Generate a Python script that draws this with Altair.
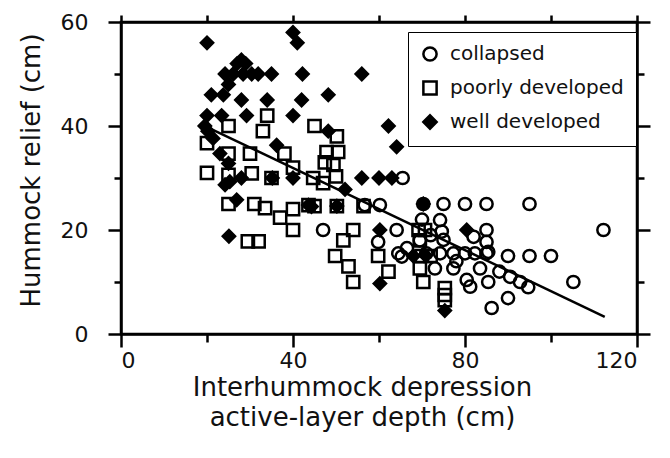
import altair as alt
import pandas as pd

# ---------------- data ----------------
series_names = ["collapsed", "poorly developed", "well developed"]

collapsed_x = [65.5, 56.7, 60.2, 70.3, 75, 80, 85, 95, 47, 64.1, 59.8, 64.5, 65.3,
               69.5, 72, 70, 74.2, 74.6, 75, 85, 82, 85, 85.4, 71, 74.2, 77.3, 80,
               82.3, 85, 90, 95, 100, 73, 77.3, 83.5, 78, 80.4, 81.2, 85.4, 88,
               90.5, 92.8, 94.7, 90, 86.2, 105.2, 112.2, 66.5]
collapsed_y = [30, 24.8, 24.8, 25, 25, 25, 25, 25, 20, 20, 17.7, 15.5, 14.9,
               18, 19, 22, 21.9, 19.7, 18.1, 20, 18.7, 17.7, 15.8, 15.5, 15.5, 15.5, 15.5,
               15.5, 15.5, 15, 15, 15, 12.6, 12.6, 12.6, 14, 10.4, 9.1, 10, 12,
               11, 10, 9, 6.9, 5, 10, 20, 16.5]

poorly_x = [34, 25, 33, 20, 25, 30, 38, 40, 20, 25, 30.4, 35, 25, 31, 33.5, 37, 40,
            40, 29.5, 32, 43.6, 44.7, 45, 50.2, 47.8, 50.5, 47.4, 49.4, 50, 47, 45,
            50.2, 56.4, 54, 51.7, 49.8, 52.9, 54, 59.8, 62.2, 69.5, 70.3, 69.2, 70.7,
            69.5, 75.3, 75.3, 75.3, 70, 72]
poorly_y = [42, 40, 39, 36.7, 34.7, 34.7, 34.7, 32, 31, 30.6, 30.9, 30, 25, 25, 24.2, 22.4, 24,
            20, 17.8, 17.8, 24.8, 30, 40, 38, 35, 35, 33, 32.5, 30.3, 29, 24.6,
            24.6, 24.6, 20, 18, 15, 13, 10, 15, 12, 12.6, 10, 20, 20,
            18, 8.8, 7.5, 6.5, 15, 15]

well_x = [20, 40, 41, 28, 27, 29, 24.2, 26.1, 28.4, 30.4, 31.9, 35, 42.2, 56, 25, 21,
          23.8, 28, 34, 42, 48.2, 20, 23.4, 29.2, 40, 62.2, 48.2, 19.5, 20.2, 21.4,
          36.2, 64.1, 23, 25, 24.2, 25.3, 28, 26.9, 25.1, 35.2, 40, 44.3, 50.2, 43.6,
          52.1, 56, 60, 63, 70.3, 60.2, 60.2, 80.4, 75.3, 70.7, 68]
well_y = [56, 58, 56, 52.7, 52, 52, 50, 50, 50, 50, 50, 50, 50, 50, 48, 46,
          46, 45, 45, 45, 46, 42, 42, 42, 42, 40, 39, 40, 39, 37.6,
          36.3, 36, 34.7, 32.8, 28.7, 29.3, 30, 25.8, 18.8, 30, 30, 24.5, 24.6, 24.8,
          27.8, 30, 30, 30, 25, 20, 9.7, 20, 4.5, 15.2, 15]

fit_x = [20.5, 112.5]
fit_y = [39.6, 3.3]

x_ticks = [0, 20, 40, 60, 80, 100, 120]
y_ticks = [0, 10, 20, 30, 40, 50, 60]

# ---------------- tables ----------------
rows = []
for name, xs, ys in zip(series_names,
                        [collapsed_x, poorly_x, well_x],
                        [collapsed_y, poorly_y, well_y]):
    rows += [{"depth": a, "relief": b, "type": name} for a, b in zip(xs, ys)]
df = pd.DataFrame(rows)
fit_df = pd.DataFrame({"depth": fit_x, "relief": fit_y})

FONT = "DejaVu Sans"
INK = "#111111"

x_scale = alt.Scale(domain=[0, 120], nice=False, zero=False)
y_scale = alt.Scale(domain=[0, 60], nice=False, zero=False)

major_x = "datum.value % 40 === 0"
major_y = "datum.value % 20 === 0"


def make_legend():
    return alt.Legend(title=None, orient="none", legendX=287, legendY=10,
                      labelFont=FONT, labelFontSize=20, labelColor=INK, labelLimit=400,
                      strokeColor="black", fillColor="white", padding=12,
                      rowPadding=10, labelOffset=10, symbolSize=175,
                      symbolStrokeWidth=2.5)


points = alt.Chart(df).mark_point(strokeWidth=2.5, opacity=1, size=150).encode(
    x=alt.X("depth:Q", scale=x_scale,
            axis=alt.Axis(orient="bottom", values=x_ticks,
                          labelExpr=f"{major_x} ? datum.label : ''",
                          tickSize={"condition": {"test": major_x, "value": 13}, "value": 8},
                          labelPadding=3,
                          title=["Interhummock depression", "active-layer depth (cm)"],
                          titleX=241, titleY=61, titleAlign="center",
                          titleBaseline="alphabetic", titleLineHeight=30)),
    y=alt.Y("relief:Q", scale=y_scale,
            axis=alt.Axis(orient="left", values=y_ticks,
                          labelExpr=f"{major_y} ? datum.label : ''",
                          tickSize={"condition": {"test": major_y, "value": 13}, "value": 7},
                          labelPadding=20,
                          title="Hummock relief (cm)",
                          titleX=-82, titleY=148, titleAngle=270, titleAlign="center",
                          titleBaseline="alphabetic")),
    shape=alt.Shape("type:N", scale=alt.Scale(domain=series_names,
                                              range=["circle", "square", "diamond"]),
                    legend=make_legend()),
    fill=alt.Fill("type:N", scale=alt.Scale(domain=series_names,
                                            range=["transparent", "transparent", "black"]),
                  legend=make_legend()),
    stroke=alt.Stroke("type:N", scale=alt.Scale(domain=series_names,
                                                range=["black", "black", "black"]),
                      legend=make_legend()),
)

fit = alt.Chart(fit_df).mark_line(color="black", strokeWidth=2.5).encode(
    x=alt.X("depth:Q", scale=x_scale,
            axis=alt.Axis(orient="top", values=x_ticks, labels=False, title=None,
                          tickSize=7)),
    y=alt.Y("relief:Q", scale=y_scale,
            axis=alt.Axis(orient="right", values=y_ticks, labels=False, title=None,
                          tickSize={"condition": {"test": major_y, "value": 13}, "value": 7})),
)

chart = alt.layer(points, fit).resolve_axis(x="independent", y="independent").properties(
    width=516, height=312,
    autosize=alt.AutoSizeParams(type="none"),
    padding={"left": 113, "top": 14, "right": 25, "bottom": 116},
).configure_view(stroke="black", strokeWidth=2.5).configure_axis(
    grid=False, domainColor="black", domainWidth=2.5, tickColor="black", tickWidth=2.5,
    labelFont=FONT, labelFontSize=22, labelColor=INK,
    titleFont=FONT, titleFontSize=26, titleFontWeight="normal", titleColor=INK,
)

chart.save("out.html", embed_options={"renderer": "svg", "actions": False})
